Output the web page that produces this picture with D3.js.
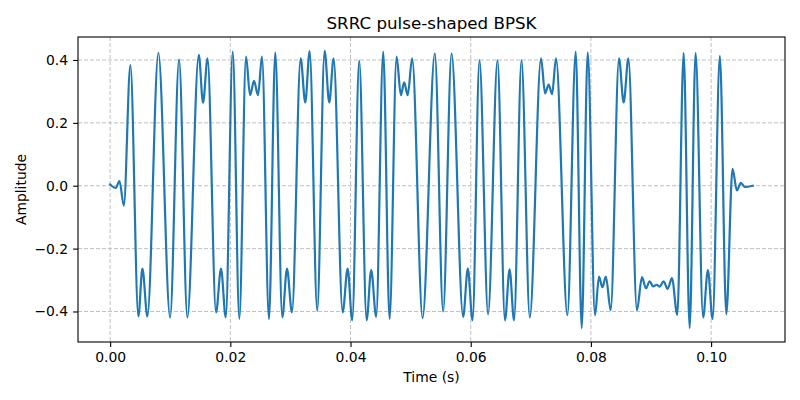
<!DOCTYPE html>
<html>
<head>
<meta charset="utf-8">
<script src="https://cdn.jsdelivr.net/npm/d3@7"></script>
<style>
  body { margin: 0; background: #fff; }
  svg { display: block; font-family: "DejaVu Sans", sans-serif; }
</style>
</head>
<body>
<svg id="chart" width="800" height="400"></svg>
<script>
// local extrema of the waveform (time in s, amplitude)
var timeValues = [
  0.00000, 0.00095, 0.00155, 0.00228, 0.00337, 0.00470, 0.00537, 0.00620, 0.00803, 0.00998,
  0.01147, 0.01285, 0.01475, 0.01546, 0.01621, 0.01762, 0.01845, 0.01924, 0.02040, 0.02150,
  0.02261, 0.02328, 0.02394, 0.02461, 0.02527, 0.02643, 0.02748, 0.02865, 0.02943, 0.03026,
  0.03170, 0.03247, 0.03320, 0.03446, 0.03569, 0.03646, 0.03719, 0.03869, 0.03952, 0.04028,
  0.04145, 0.04268, 0.04344, 0.04427, 0.04544, 0.04650, 0.04766, 0.04838, 0.04893, 0.04951,
  0.05026, 0.05199, 0.05403, 0.05541, 0.05681, 0.05874, 0.05952, 0.06030, 0.06146, 0.06289,
  0.06446, 0.06570, 0.06647, 0.06721, 0.06845, 0.06983, 0.07170, 0.07237, 0.07298, 0.07353,
  0.07420, 0.07609, 0.07747, 0.07847, 0.07947, 0.08068, 0.08135, 0.08191, 0.08249, 0.08329,
  0.08467, 0.08545, 0.08624, 0.08766, 0.08850, 0.08916, 0.08978, 0.09032, 0.09099, 0.09144,
  0.09210, 0.09277, 0.09348, 0.09438, 0.09543, 0.09643, 0.09742, 0.09867, 0.09947, 0.10025,
  0.10146, 0.10253, 0.10357, 0.10429, 0.10495, 0.10562, 0.10695
];
var ampValues = [
  0.004, -0.007, 0.015, -0.063, 0.384, -0.416, -0.264, -0.416, 0.423, -0.419,
  0.402, -0.419, 0.416, 0.264, 0.405, -0.403, -0.264, -0.419, 0.427, -0.424,
  0.411, 0.288, 0.334, 0.288, 0.411, -0.424, 0.424, -0.419, -0.264, -0.403,
  0.405, 0.265, 0.428, -0.398, 0.429, 0.265, 0.405, -0.403, -0.264, -0.428,
  0.398, -0.428, -0.268, -0.417, 0.427, -0.424, 0.411, 0.288, 0.329, 0.288,
  0.405, -0.421, 0.421, -0.400, 0.421, -0.417, -0.264, -0.428, 0.400, -0.409,
  0.400, -0.428, -0.266, -0.428, 0.400, -0.419, 0.405, 0.294, 0.322, 0.291,
  0.405, -0.412, 0.427, -0.453, 0.424, -0.412, -0.289, -0.323, -0.289, -0.396,
  0.405, 0.265, 0.405, -0.396, -0.291, -0.326, -0.304, -0.320, -0.315, -0.321,
  -0.304, -0.328, -0.294, -0.411, 0.423, -0.453, 0.423, -0.419, -0.268, -0.424,
  0.413, -0.409, 0.054, -0.015, 0.009, -0.004, 0.000
];
var xTicks = [0, 0.02, 0.04, 0.06, 0.08, 0.10];
var yTicks = [-0.4, -0.2, 0.0, 0.2, 0.4];

var svg = d3.select("#chart"),
    pLeft = 78, pRight = 785, pTop = 37, pBottom = 342;

var points = timeValues.map(function(t, i) { return [t, ampValues[i]]; });

// matplotlib style 5% margins
var xExt = d3.extent(timeValues), yExt = d3.extent(ampValues);
var xPad = (xExt[1] - xExt[0]) * 0.05, yPad = (yExt[1] - yExt[0]) * 0.05;

var x = d3.scaleLinear().domain([xExt[0] - xPad, xExt[1] + xPad]).range([pLeft, pRight]);
var y = d3.scaleLinear().domain([yExt[0] - yPad, yExt[1] + yPad]).range([pBottom, pTop]);

// grid
var grid = svg.append("g").attr("stroke", "#b0b0b0").attr("stroke-width", 0.8)
    .attr("stroke-dasharray", "4,2");
grid.selectAll(".gx").data(xTicks).enter().append("line")
    .attr("x1", function(d) { return x(d); }).attr("x2", function(d) { return x(d); })
    .attr("y1", pTop).attr("y2", pBottom);
grid.selectAll(".gy").data(yTicks).enter().append("line")
    .attr("y1", function(d) { return y(d); }).attr("y2", function(d) { return y(d); })
    .attr("x1", pLeft).attr("x2", pRight);

// signal
var line = d3.line()
    .x(function(d) { return x(d[0]); })
    .y(function(d) { return y(d[1]); })
    .curve(d3.curveMonotoneX);

svg.append("path")
    .datum(points)
    .attr("d", line)
    .attr("fill", "none")
    .attr("stroke", "#1f77b4")
    .attr("stroke-width", 2.2)
    .attr("stroke-linejoin", "round")
    .attr("stroke-linecap", "square");

// axes
var xAxis = svg.append("g").attr("transform", "translate(0," + pBottom + ")")
    .call(d3.axisBottom(x).tickValues(xTicks).tickFormat(d3.format(".2f")).tickSizeOuter(0).tickSize(4.9).tickPadding(5));
var yAxis = svg.append("g").attr("transform", "translate(" + pLeft + ",0)")
    .call(d3.axisLeft(y).tickValues(yTicks).tickFormat(d3.format(".1f")).tickSizeOuter(0).tickSize(4.9).tickPadding(5));

[xAxis, yAxis].forEach(function(a) {
  a.select(".domain").remove();
  a.selectAll("text").attr("font-size", "13.9px").attr("font-family", "DejaVu Sans").attr("fill", "#000");
  a.selectAll(".tick line").attr("stroke", "#000").attr("stroke-width", 1.1);
});

svg.append("rect")
    .attr("x", pLeft).attr("y", pTop)
    .attr("width", pRight - pLeft).attr("height", pBottom - pTop)
    .attr("fill", "none").attr("stroke", "#000").attr("stroke-width", 1.1);

// labels
svg.append("text")
    .attr("x", (pLeft + pRight) / 2).attr("y", 29)
    .attr("text-anchor", "middle").attr("font-size", "16.7px")
    .text("SRRC pulse-shaped BPSK");

svg.append("text")
    .attr("x", (pLeft + pRight) / 2).attr("y", 382)
    .attr("text-anchor", "middle").attr("font-size", "13.9px")
    .text("Time (s)");

svg.append("text")
    .attr("transform", "translate(26," + (pTop + pBottom) / 2 + ") rotate(-90)")
    .attr("text-anchor", "middle").attr("font-size", "13.9px")
    .text("Amplitude");
</script>
</body>
</html>
